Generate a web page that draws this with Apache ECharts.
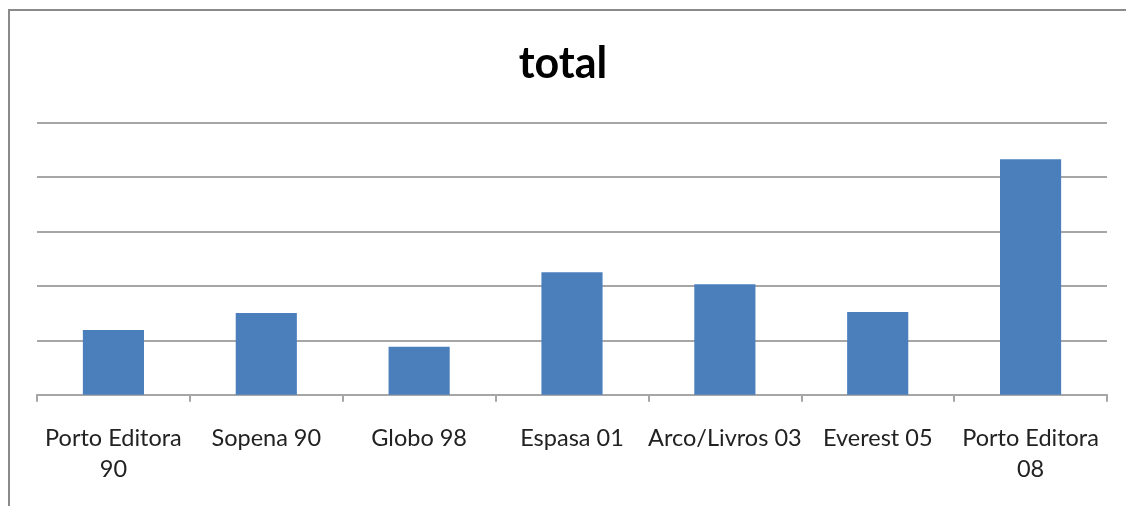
<!DOCTYPE html>
<html>
<head>
<meta charset="utf-8">
<script src="https://cdn.jsdelivr.net/npm/echarts@6/dist/echarts.min.js"></script>
<style>
html,body{margin:0;padding:0;background:#fff;overflow:hidden;width:1126px;height:506px;}
#chart{position:absolute;left:0;top:0;width:1126px;height:506px;}
</style>
</head>
<body>
<div id="chart"></div>
<script>
const chartTitle = "total";
const categories = ["Porto Editora\n90", "Sopena 90", "Globo 98", "Espasa 01", "Arco/Livros 03", "Everest 05", "Porto Editora\n08"];
const totals = [1.19, 1.50, 0.88, 2.25, 2.03, 1.52, 4.33];
const yMin = 0, yMax = 5, yStep = 1;

const chart = echarts.init(document.getElementById('chart'), null, {renderer: 'canvas'});
chart.setOption({
  backgroundColor: '#fff',
  animation: false,
  graphic: [
    {type: 'polyline', silent: true, shape: {points: [[9, 506], [9, 10], [1126, 10]]},
     style: {stroke: '#8a8a8a', lineWidth: 2, fill: null}}
  ],
  title: {
    text: chartTitle,
    left: 'center',
    top: 38,
    textStyle: {fontFamily: 'Lato', fontWeight: 'bold', fontSize: 43, color: '#000'}
  },
  grid: {left: 37, right: 19, top: 122.7, bottom: 111.3, containLabel: false},
  xAxis: {
    type: 'category',
    data: categories,
    axisLine: {show: true, lineStyle: {color: '#a6a6a6', width: 2}},
    axisTick: {show: true, length: 7, lineStyle: {color: '#a6a6a6', width: 2}},
    axisLabel: {
      margin: 28,
      fontFamily: 'Lato',
      fontSize: 23.5,
      lineHeight: 31,
      color: '#222',
      interval: 0
    }
  },
  yAxis: {
    type: 'value',
    min: yMin, max: yMax, interval: yStep,
    axisLine: {show: false},
    axisTick: {show: false},
    axisLabel: {show: false},
    splitLine: {show: true, lineStyle: {color: '#a6a6a6', width: 2}}
  },
  series: [{
    type: 'bar',
    data: totals,
    barWidth: '40%',
    itemStyle: {color: '#4a7fbc'}
  }]
});
</script>
</body>
</html>
